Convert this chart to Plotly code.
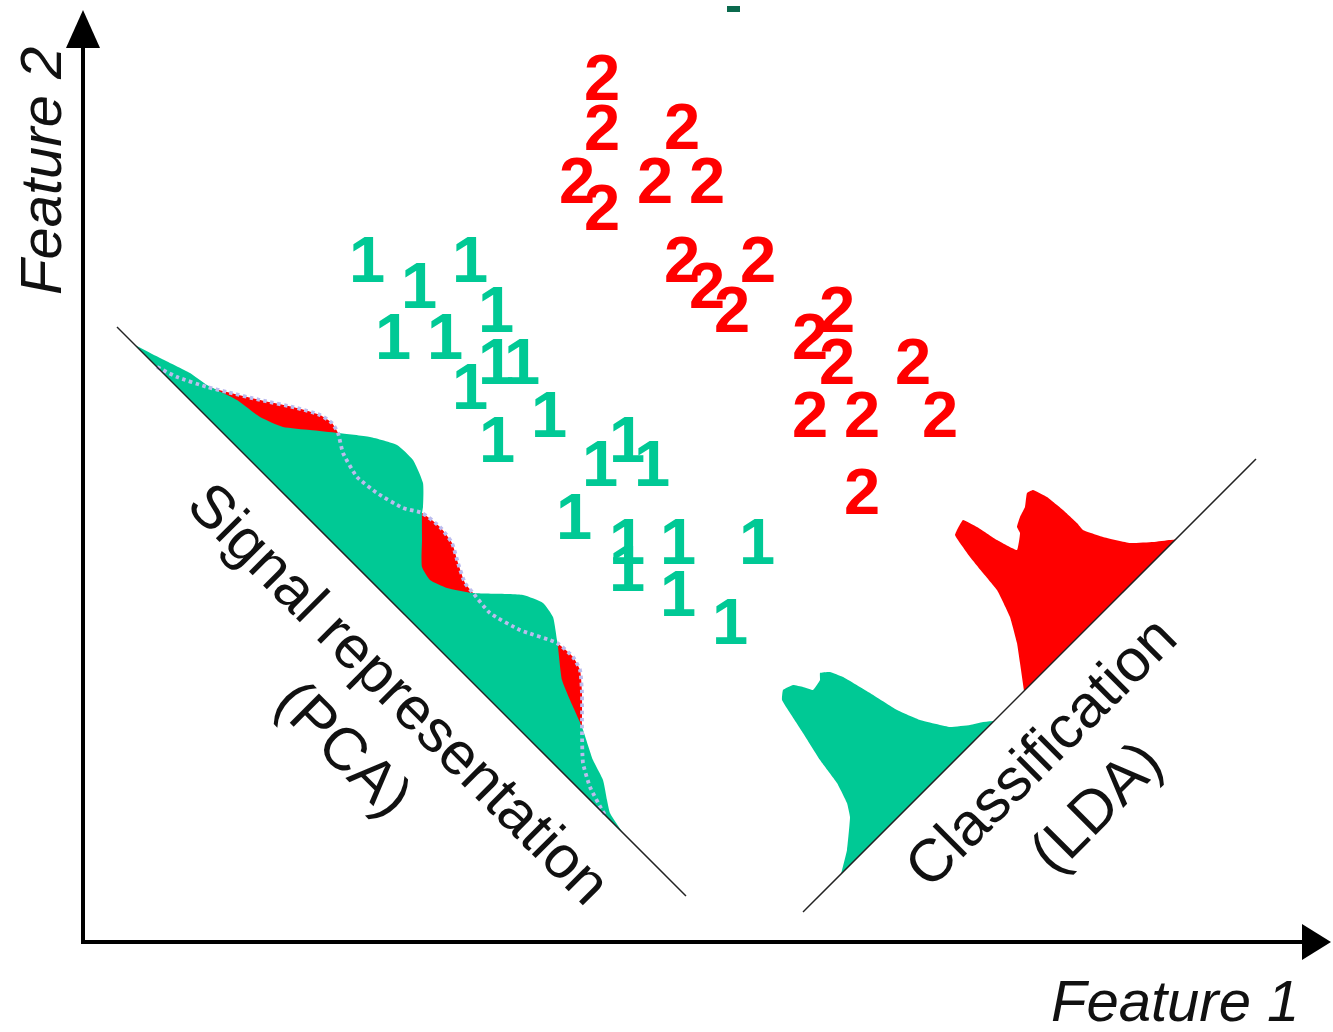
import numpy as np
import plotly.graph_objects as go

W, H = 1333, 1032

# ---------------- data ----------------
# class 1 samples (Feature 1, Feature 2 in image units, y grows downward)
ones_x = [367, 419, 470, 496, 393, 445, 496, 522, 470, 549, 497, 627, 600, 652,
          574, 627, 678, 757, 627, 678, 730]
ones_y = [261, 287, 261, 311, 338, 338, 363, 363, 388, 416, 441, 441, 465, 465,
          518, 543, 543, 543, 570, 595, 623]

# class 2 samples
twos_x = [602, 602, 682, 577, 602, 655, 707, 682, 707, 758, 732, 837, 810, 837,
          913, 810, 862, 940, 862]
twos_y = [79, 129, 128, 182, 209, 182, 182, 261, 287, 261, 311, 311, 338, 363,
          363, 416, 416, 416, 493]

# PCA projection: class densities (position along axis, density height)
pca_green_pos = [18, 37, 59.5, 74, 96.5, 116.5, 133, 148, 163.5, 181.5, 199, 214.5,
                 231, 243, 245.5, 259, 272.5, 283, 295.5, 311, 337, 351, 363, 376.5,
                 380.5, 399, 413, 432.5, 454.5, 469.5, 481.5, 489.5, 506]
pca_green_dens = [0, 6, 13.5, 16, 23.5, 26.5, 33, 45, 57.5, 71.5, 81, 81.5,
                  75, 63, 59.5, 46, 32.5, 30, 34.5, 45, 69, 75, 73, 63.5,
                  60.5, 46, 40, 32.5, 21.5, 16.5, 8.5, 3.5, 0]
pca_red_pos = [40, 55, 75, 87.5, 108, 130.5, 145.5, 155.5, 163.5, 176, 195, 213,
               233.5, 245.5, 261.5, 275.5, 288.5, 302, 311, 329.5, 353, 378, 393,
               403, 415.5, 434, 451, 466.5, 484, 488]
pca_red_dens = [0, 5, 15, 22.5, 35, 49.5, 57.5, 59.5, 57.5, 50, 45, 47,
                52.5, 59.5, 61.5, 59.5, 52.5, 46, 45, 43.5, 50, 62, 63,
                60, 49.5, 31, 15, 6.5, 1, 0]

# LDA projection: class densities
lda_green_pos = [38, 53, 71, 76.5, 81.5, 84.5, 89.5, 93, 95.5, 101, 108.5, 112.5,
                 116, 124.5, 128, 133.5, 137.5, 143, 148, 154.5, 166, 177, 185, 191]
lda_green_dens = [0, 9, 24, 32.5, 47.5, 67.5, 89.5, 106, 116.5, 121, 118.5, 112.5,
                  106, 107.5, 111, 106.5, 97.5, 76, 54, 37.5, 19, 10, 5, 0]
lda_red_pos = [221, 233, 241.5, 251, 258, 259.5, 261, 263, 264.5, 269.5, 276, 279.5,
               283, 288, 298, 299.5, 306, 313.5, 321.5, 326, 329.5, 331, 331.5, 331,
               337.5, 348, 360, 369.5, 372.5]
lda_red_dens = [0, 16, 27.5, 44, 64, 79.5, 94, 106, 112.5, 114.5, 116, 105.5,
                89, 74, 81, 85.5, 89, 91.5, 97.5, 96, 85.5, 71, 57.5, 51,
                37.5, 21, 10, 2.5, 0]

# ---------------- style / geometry ----------------
GREEN = "#00C995"
RED = "#FF0000"
DOT = "#BCBCEE"
FONT = "Liberation Sans, Arial, Helvetica, sans-serif"
TEXT_DROP = 5  # vertical glyph alignment of the digit markers (px)

PCA_ORIGIN = (117, 327)   # projection axis origin, direction down-right
PCA_LEN = 569
LDA_ORIGIN = (803, 912)   # projection axis origin, direction up-right
LDA_LEN = 453


def pca_xy(pos, dens):
    pos = np.asarray(pos, float)
    dens = np.asarray(dens, float)
    return PCA_ORIGIN[0] + pos + dens, PCA_ORIGIN[1] + pos - dens


def lda_xy(pos, dens):
    pos = np.asarray(pos, float)
    dens = np.asarray(dens, float)
    return LDA_ORIGIN[0] + pos - dens, LDA_ORIGIN[1] - pos - dens


fig = go.Figure()

# PCA densities: red below, green on top, red outline dotted on top
rx, ry = pca_xy(pca_red_pos, pca_red_dens)
gx, gy = pca_xy(pca_green_pos, pca_green_dens)
fig.add_trace(go.Scatter(x=rx, y=ry, mode="lines", fill="toself", fillcolor=RED,
                         line=dict(width=0, shape="spline", smoothing=0.5),
                         hoverinfo="skip"))
fig.add_trace(go.Scatter(x=gx, y=gy, mode="lines", fill="toself", fillcolor=GREEN,
                         line=dict(width=0, shape="spline", smoothing=0.5),
                         hoverinfo="skip"))
fig.add_trace(go.Scatter(x=rx, y=ry, mode="lines",
                         line=dict(width=3.8, color=DOT, dash="3.5px,3.5px",
                                   shape="spline", smoothing=0.5),
                         hoverinfo="skip"))

# LDA densities
lgx, lgy = lda_xy(lda_green_pos, lda_green_dens)
lrx, lry = lda_xy(lda_red_pos, lda_red_dens)
fig.add_trace(go.Scatter(x=lgx, y=lgy, mode="lines", fill="toself", fillcolor=GREEN,
                         line=dict(width=0, shape="spline", smoothing=0.3),
                         hoverinfo="skip"))
fig.add_trace(go.Scatter(x=lrx, y=lry, mode="lines", fill="toself", fillcolor=RED,
                         line=dict(width=0, shape="spline", smoothing=0.3),
                         hoverinfo="skip"))

# projection axes
px0, py0 = pca_xy([0, PCA_LEN], [0, 0])
lx0, ly0 = lda_xy([0, LDA_LEN], [0, 0])
fig.add_trace(go.Scatter(x=px0, y=py0, mode="lines",
                         line=dict(width=1.5, color="#222"), hoverinfo="skip"))
fig.add_trace(go.Scatter(x=lx0, y=ly0, mode="lines",
                         line=dict(width=1.5, color="#222"), hoverinfo="skip"))

# samples (drawn on an overlay axis that nudges glyphs to their ink centres)
fig.add_trace(go.Scatter(x=ones_x, y=ones_y, mode="text", text=["1"] * len(ones_x),
                         textposition="middle center", yaxis="y2",
                         textfont=dict(family=FONT, size=65, color=GREEN, weight="bold"),
                         hoverinfo="skip"))
fig.add_trace(go.Scatter(x=twos_x, y=twos_y, mode="text", text=["2"] * len(twos_x),
                         textposition="middle center", yaxis="y2",
                         textfont=dict(family=FONT, size=65, color=RED, weight="bold"),
                         hoverinfo="skip"))

# feature axes with arrowheads
shapes = [
    dict(type="line", x0=83, y0=944, x1=83, y1=40, line=dict(color="black", width=4)),
    dict(type="path", path="M 83,10 L 66,48 L 100,48 Z", fillcolor="black",
         line=dict(width=0)),
    dict(type="line", x0=81, y0=942, x1=1305, y1=942, line=dict(color="black", width=4)),
    dict(type="path", path="M 1331,942 L 1302,924 L 1302,960 Z", fillcolor="black",
         line=dict(width=0)),
    dict(type="rect", x0=727, y0=6, x1=740, y1=12, fillcolor="#0B6A4E",
         line=dict(width=0)),
]
for s in shapes:
    s.update(xref="x", yref="y")

annotations = [
    dict(x=1175, y=1000, text="<i>Feature 1</i>", showarrow=False,
         font=dict(family=FONT, size=58, color="#111"),
         xanchor="center", yanchor="middle"),
    dict(x=40, y=171, text="<i>Feature 2</i>", showarrow=False, textangle=-90,
         font=dict(family=FONT, size=58, color="#111"),
         xanchor="center", yanchor="middle"),
    dict(x=372, y=720, text="Signal representation<br>(PCA)", showarrow=False,
         textangle=45, font=dict(family=FONT, size=60, color="#111"),
         xanchor="center", yanchor="middle"),
    dict(x=1067, y=779, text="Classification<br>(LDA)", showarrow=False,
         textangle=-45, font=dict(family=FONT, size=60, color="#111"),
         xanchor="center", yanchor="middle"),
]
for a in annotations:
    a.update(xref="x", yref="y")

fig.update_layout(
    width=W, height=H, autosize=False,
    margin=dict(l=0, r=0, t=0, b=0, pad=0),
    paper_bgcolor="white", plot_bgcolor="white",
    showlegend=False,
    xaxis=dict(range=[0, W], visible=False, fixedrange=True),
    yaxis=dict(range=[H, 0], visible=False, fixedrange=True),
    yaxis2=dict(range=[H - TEXT_DROP, -TEXT_DROP], overlaying="y", visible=False,
                fixedrange=True),
    shapes=shapes, annotations=annotations,
)

fig.write_html("out.html", config={"displayModeBar": False},
               post_script="document.body.style.margin='0';document.body.style.overflow='hidden';")
